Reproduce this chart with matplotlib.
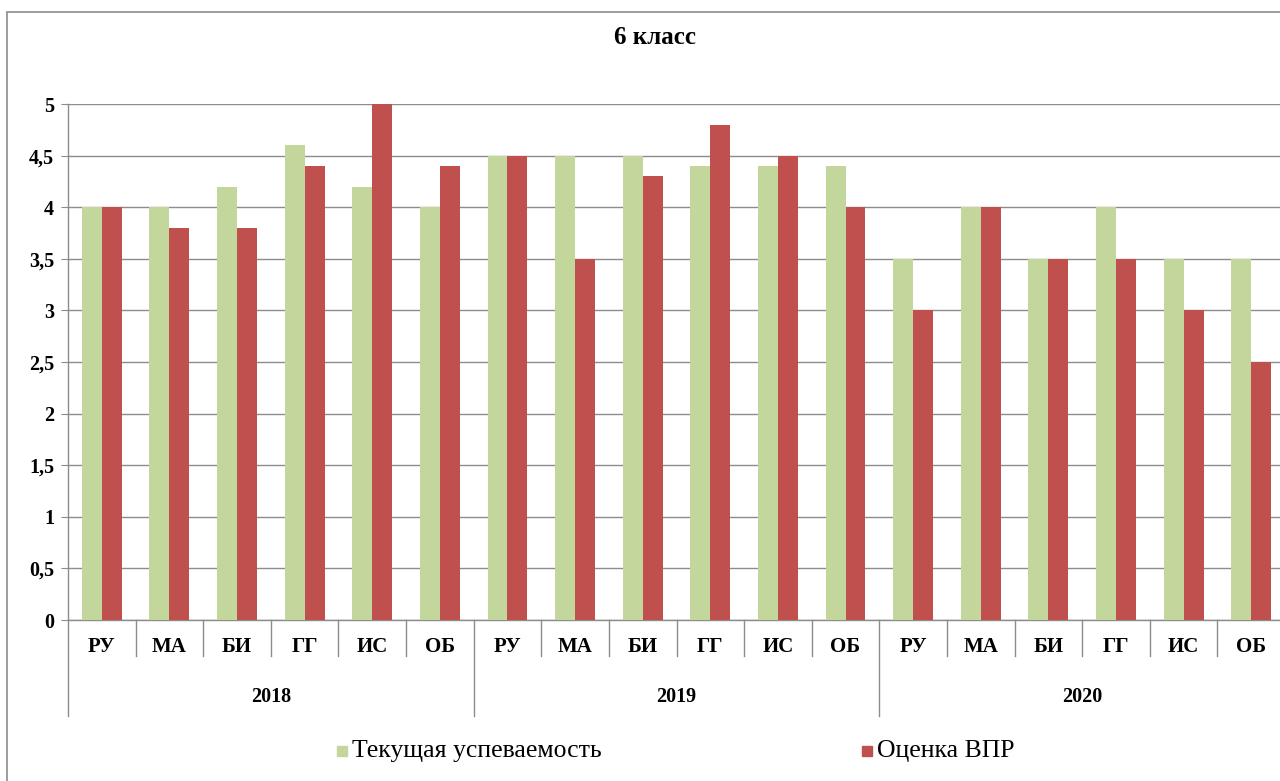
import numpy as np
import matplotlib
matplotlib.use("Agg")
from matplotlib import pyplot as plt
from matplotlib.patches import Rectangle

subjects = ['РУ', 'МА', 'БИ', 'ГГ', 'ИС', 'ОБ']
years = ['2018', '2019', '2020']
current = [4, 4, 4.2, 4.6, 4.2, 4,
           4.5, 4.5, 4.5, 4.4, 4.4, 4.4,
           3.5, 4, 3.5, 4, 3.5, 3.5]
vpr = [4, 3.8, 3.8, 4.4, 5, 4.4,
       4.5, 3.5, 4.3, 4.8, 4.5, 4,
       3, 4, 3.5, 3.5, 3, 2.5]
yticks = [0, 0.5, 1, 1.5, 2, 2.5, 3, 3.5, 4, 4.5, 5]

plt.rcParams['font.family'] = ['Liberation Serif', 'DejaVu Serif']

fig = plt.figure(figsize=(12.8, 7.81), dpi=100)
# outer frame of the chart, cut by the image edge
fig.patches.append(Rectangle((7 / 1280, -0.05), 1.2, 1 - 12 / 781 + 0.05,
                             transform=fig.transFigure, fill=False,
                             edgecolor='#8c8c8c', linewidth=1.2))

ax = fig.add_axes([68 / 1280, 1 - 620 / 781, (1285 - 68) / 1280, (620 - 104) / 781])

n = len(current)
x = np.arange(n)
w = 0.295
green = '#C3D69B'
red = '#C0504D'
ax.bar(x - w / 2, current, w, color=green, zorder=3, label='Текущая успеваемость')
ax.bar(x + w / 2, vpr, w, color=red, zorder=3, label='Оценка ВПР')

ax.set_xlim(-0.5, n - 0.5)
ax.set_ylim(0, 5)
ax.set_yticks(yticks)
ax.set_yticklabels([str(v).replace('.', ',') if v % 1 else str(int(v)) for v in yticks],
                   fontsize=14.5, fontweight='bold')
ax.yaxis.grid(True, color='#8c8c8c', linewidth=1.0, zorder=0)
ax.tick_params(axis='y', length=5, color='#8c8c8c', pad=5)
ax.set_xticks([])

for s in ['top', 'right']:
    ax.spines[s].set_visible(False)
for s in ['left', 'bottom']:
    ax.spines[s].set_color('#8c8c8c')
    ax.spines[s].set_linewidth(1.0)

tr = ax.get_xaxis_transform()
sub_h = 36 / 516
year_h = 96 / 516
for i in range(n + 1):
    b = i - 0.5
    depth = year_h if i % 6 == 0 else sub_h
    ax.plot([b, b], [0, -depth], transform=tr, color='#8c8c8c', linewidth=1.0,
            clip_on=False)
for i in range(n):
    ax.text(i, -27 / 516, subjects[i % 6], transform=tr, ha='center', va='center',
            fontsize=15, fontweight='bold')
for j, yr in enumerate(years):
    ax.text(j * 6 + 2.5, -77 / 516, yr, transform=tr, ha='center', va='center',
            fontsize=14.5, fontweight='bold')

fig.text(655 / 1280, 1 - 38 / 781, '6 класс', ha='center', va='center',
         fontsize=18, fontweight='bold')

# legend
fig.patches.append(Rectangle((337 / 1280, 1 - 756 / 781), 10 / 1280, 10 / 781,
                             transform=fig.transFigure, color=green))
fig.text(352 / 1280, 1 - 751 / 781, 'Текущая успеваемость', ha='left', va='center',
         fontsize=18.5)
fig.patches.append(Rectangle((862 / 1280, 1 - 756 / 781), 10 / 1280, 10 / 781,
                             transform=fig.transFigure, color=red))
fig.text(877 / 1280, 1 - 751 / 781, 'Оценка ВПР', ha='left', va='center',
         fontsize=18.5)

fig.savefig('out.png', dpi=100)
